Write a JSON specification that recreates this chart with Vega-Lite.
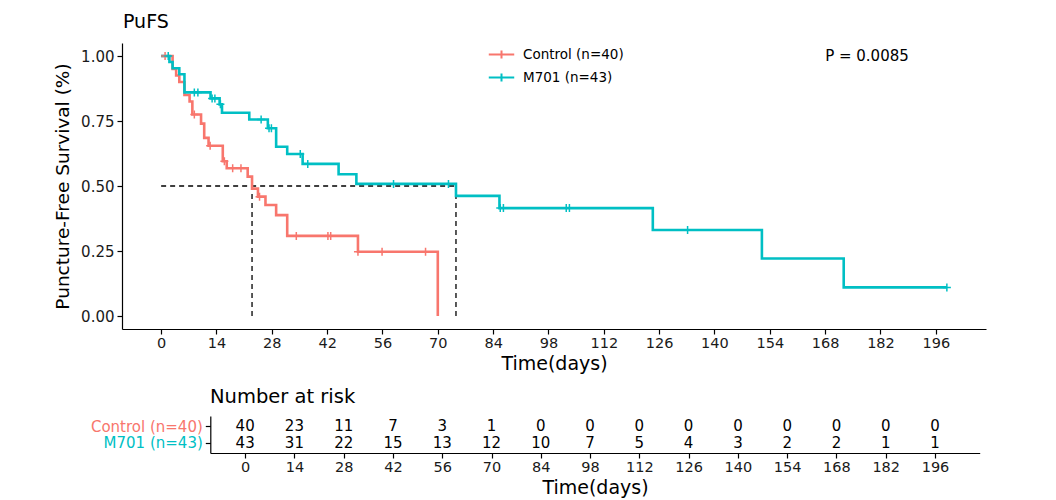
{
  "$schema": "https://vega.github.io/schema/vega-lite/v6.json",
  "background": "white",
  "padding": {"left": 53, "top": 13, "right": 5, "bottom": 5},
  "spacing": 12,
  "config": {
    "font": "DejaVu Sans",
    "view": {"stroke": null},
    "axis": {"grid": false, "domainColor": "#000", "tickColor": "#000", "labelColor": "#1a1a1a", "titleColor": "#000", "labelFont": "DejaVu Sans", "titleFont": "DejaVu Sans", "titleFontWeight": "normal", "domainWidth": 1.2, "tickWidth": 1.2, "tickSize": 5, "labelPadding": 3},
    "title": {"font": "DejaVu Sans", "fontWeight": "normal", "anchor": "start", "color": "#000", "frame": "group"},
    "legend": {"labelFont": "DejaVu Sans"}
  },
  "datasets": {
    "curves": [
      {"group": "Control (n=40)", "time": 0, "surv": 1.0},
      {"group": "Control (n=40)", "time": 2.9, "surv": 0.95},
      {"group": "Control (n=40)", "time": 3.8, "surv": 0.925},
      {"group": "Control (n=40)", "time": 4.6, "surv": 0.9},
      {"group": "Control (n=40)", "time": 5.9, "surv": 0.85},
      {"group": "Control (n=40)", "time": 7.2, "surv": 0.825},
      {"group": "Control (n=40)", "time": 7.9, "surv": 0.775},
      {"group": "Control (n=40)", "time": 10.1, "surv": 0.74},
      {"group": "Control (n=40)", "time": 10.9, "surv": 0.685},
      {"group": "Control (n=40)", "time": 12.0, "surv": 0.655},
      {"group": "Control (n=40)", "time": 15.6, "surv": 0.595},
      {"group": "Control (n=40)", "time": 16.6, "surv": 0.568},
      {"group": "Control (n=40)", "time": 21.9, "surv": 0.536},
      {"group": "Control (n=40)", "time": 23.0, "surv": 0.49},
      {"group": "Control (n=40)", "time": 24.5, "surv": 0.459},
      {"group": "Control (n=40)", "time": 26.4, "surv": 0.427},
      {"group": "Control (n=40)", "time": 29.1, "surv": 0.388},
      {"group": "Control (n=40)", "time": 31.9, "surv": 0.308},
      {"group": "Control (n=40)", "time": 49.8, "surv": 0.247},
      {"group": "Control (n=40)", "time": 70.0, "surv": 0.0},
      {"group": "M701 (n=43)", "time": 0, "surv": 1.0},
      {"group": "M701 (n=43)", "time": 2.1, "surv": 0.977},
      {"group": "M701 (n=43)", "time": 2.9, "surv": 0.953},
      {"group": "M701 (n=43)", "time": 4.6, "surv": 0.93},
      {"group": "M701 (n=43)", "time": 5.9, "surv": 0.86},
      {"group": "M701 (n=43)", "time": 12.5, "surv": 0.837},
      {"group": "M701 (n=43)", "time": 14.8, "surv": 0.814},
      {"group": "M701 (n=43)", "time": 15.4, "surv": 0.782},
      {"group": "M701 (n=43)", "time": 22.3, "surv": 0.756},
      {"group": "M701 (n=43)", "time": 27.0, "surv": 0.722},
      {"group": "M701 (n=43)", "time": 29.1, "surv": 0.651},
      {"group": "M701 (n=43)", "time": 31.9, "surv": 0.623},
      {"group": "M701 (n=43)", "time": 35.8, "surv": 0.585},
      {"group": "M701 (n=43)", "time": 44.9, "surv": 0.545},
      {"group": "M701 (n=43)", "time": 49.4, "surv": 0.508},
      {"group": "M701 (n=43)", "time": 74.6, "surv": 0.462},
      {"group": "M701 (n=43)", "time": 85.6, "surv": 0.415},
      {"group": "M701 (n=43)", "time": 124.4, "surv": 0.331},
      {"group": "M701 (n=43)", "time": 152.0, "surv": 0.221},
      {"group": "M701 (n=43)", "time": 172.7, "surv": 0.11},
      {"group": "M701 (n=43)", "time": 198.8, "surv": 0.11}
    ],
    "censor": [
      {"group": "Control (n=40)", "time": 1.0, "surv": 1.0},
      {"group": "Control (n=40)", "time": 8.4, "surv": 0.775},
      {"group": "Control (n=40)", "time": 12.4, "surv": 0.655},
      {"group": "Control (n=40)", "time": 16.0, "surv": 0.595},
      {"group": "Control (n=40)", "time": 18.1, "surv": 0.568},
      {"group": "Control (n=40)", "time": 20.2, "surv": 0.568},
      {"group": "Control (n=40)", "time": 24.9, "surv": 0.459},
      {"group": "Control (n=40)", "time": 34.2, "surv": 0.308},
      {"group": "Control (n=40)", "time": 42.2, "surv": 0.308},
      {"group": "Control (n=40)", "time": 42.9, "surv": 0.308},
      {"group": "Control (n=40)", "time": 49.8, "surv": 0.247},
      {"group": "Control (n=40)", "time": 55.9, "surv": 0.247},
      {"group": "Control (n=40)", "time": 66.9, "surv": 0.247},
      {"group": "M701 (n=43)", "time": 1.8, "surv": 1.0},
      {"group": "M701 (n=43)", "time": 8.4, "surv": 0.86},
      {"group": "M701 (n=43)", "time": 9.3, "surv": 0.86},
      {"group": "M701 (n=43)", "time": 12.9, "surv": 0.837},
      {"group": "M701 (n=43)", "time": 13.6, "surv": 0.837},
      {"group": "M701 (n=43)", "time": 15.0, "surv": 0.814},
      {"group": "M701 (n=43)", "time": 25.3, "surv": 0.756},
      {"group": "M701 (n=43)", "time": 27.3, "surv": 0.722},
      {"group": "M701 (n=43)", "time": 27.9, "surv": 0.722},
      {"group": "M701 (n=43)", "time": 35.2, "surv": 0.623},
      {"group": "M701 (n=43)", "time": 37.1, "surv": 0.585},
      {"group": "M701 (n=43)", "time": 58.8, "surv": 0.508},
      {"group": "M701 (n=43)", "time": 72.7, "surv": 0.508},
      {"group": "M701 (n=43)", "time": 85.8, "surv": 0.415},
      {"group": "M701 (n=43)", "time": 86.6, "surv": 0.415},
      {"group": "M701 (n=43)", "time": 102.5, "surv": 0.415},
      {"group": "M701 (n=43)", "time": 103.3, "surv": 0.415},
      {"group": "M701 (n=43)", "time": 133.2, "surv": 0.331},
      {"group": "M701 (n=43)", "time": 198.8, "surv": 0.11}
    ],
    "median": [
      {"x1": 0, "x2": 74.6, "y1": 0.5, "y2": 0.5},
      {"x1": 23.0, "x2": 23.0, "y1": 0, "y2": 0.5},
      {"x1": 74.6, "x2": 74.6, "y1": 0, "y2": 0.5}
    ],
    "risk": [
      {"group": "Control (n=40)", "time": 0, "n": 40},
      {"group": "Control (n=40)", "time": 14, "n": 23},
      {"group": "Control (n=40)", "time": 28, "n": 11},
      {"group": "Control (n=40)", "time": 42, "n": 7},
      {"group": "Control (n=40)", "time": 56, "n": 3},
      {"group": "Control (n=40)", "time": 70, "n": 1},
      {"group": "Control (n=40)", "time": 84, "n": 0},
      {"group": "Control (n=40)", "time": 98, "n": 0},
      {"group": "Control (n=40)", "time": 112, "n": 0},
      {"group": "Control (n=40)", "time": 126, "n": 0},
      {"group": "Control (n=40)", "time": 140, "n": 0},
      {"group": "Control (n=40)", "time": 154, "n": 0},
      {"group": "Control (n=40)", "time": 168, "n": 0},
      {"group": "Control (n=40)", "time": 182, "n": 0},
      {"group": "Control (n=40)", "time": 196, "n": 0},
      {"group": "M701 (n=43)", "time": 0, "n": 43},
      {"group": "M701 (n=43)", "time": 14, "n": 31},
      {"group": "M701 (n=43)", "time": 28, "n": 22},
      {"group": "M701 (n=43)", "time": 42, "n": 15},
      {"group": "M701 (n=43)", "time": 56, "n": 13},
      {"group": "M701 (n=43)", "time": 70, "n": 12},
      {"group": "M701 (n=43)", "time": 84, "n": 10},
      {"group": "M701 (n=43)", "time": 98, "n": 7},
      {"group": "M701 (n=43)", "time": 112, "n": 5},
      {"group": "M701 (n=43)", "time": 126, "n": 4},
      {"group": "M701 (n=43)", "time": 140, "n": 3},
      {"group": "M701 (n=43)", "time": 154, "n": 2},
      {"group": "M701 (n=43)", "time": 168, "n": 2},
      {"group": "M701 (n=43)", "time": 182, "n": 1},
      {"group": "M701 (n=43)", "time": 196, "n": 1}
    ],
    "pval": [{"time": 168.0, "surv": 1.0, "label": "P = 0.0085"}]
  },
  "vconcat": [
    {
      "title": {"text": "PuFS", "fontSize": 19, "dx": 1, "offset": 11},
      "width": 864,
      "height": 286,
      "layer": [
        {
          "data": {"name": "median"},
          "mark": {"type": "rule", "strokeDash": [5, 4], "strokeWidth": 1.3, "color": "#000"},
          "encoding": {
            "x": {"field": "x1", "type": "quantitative"},
            "x2": {"field": "x2"},
            "y": {"field": "y1", "type": "quantitative"},
            "y2": {"field": "y2"}
          }
        },
        {
          "data": {"name": "curves"},
          "mark": {"type": "line", "interpolate": "step-after", "strokeWidth": 2.6},
          "encoding": {
            "x": {"field": "time", "type": "quantitative",
              "scale": {"domain": [-9.9, 208.7], "nice": false, "zero": false},
              "axis": {"values": [0, 14, 28, 42, 56, 70, 84, 98, 112, 126, 140, 154, 168, 182, 196], "title": "Time(days)", "titleFontSize": 19, "labelFontSize": 14.5, "labelPadding": 2, "titlePadding": 5}},
            "y": {"field": "surv", "type": "quantitative",
              "scale": {"domain": [-0.05, 1.05], "nice": false, "zero": false},
              "axis": {"values": [0, 0.25, 0.5, 0.75, 1], "format": ".2f", "title": "Puncture-Free Survival (%)", "titleFontSize": 18.5, "labelFontSize": 15, "titlePadding": 8}},
            "color": {"field": "group", "type": "nominal",
              "scale": {"domain": ["Control (n=40)", "M701 (n=43)"], "range": ["#F8766D", "#00BFC4"]},
              "legend": {"orient": "none", "legendX": 371, "legendY": 3, "title": null, "symbolType": "M-1.8,0H1.8M0,-0.55V0.55", "symbolSize": 200, "symbolStrokeWidth": 2, "labelFontSize": 13.5, "labelColor": "#000", "rowPadding": 6, "labelOffset": 13}}
          }
        },
        {
          "data": {"name": "censor"},
          "mark": {"type": "point", "shape": "M0,-1V1M-1,0H1", "filled": false, "strokeWidth": 1.5, "size": 64, "opacity": 1},
          "encoding": {
            "x": {"field": "time", "type": "quantitative"},
            "y": {"field": "surv", "type": "quantitative"},
            "color": {"field": "group", "type": "nominal", "legend": null}
          }
        },
        {
          "data": {"name": "pval"},
          "mark": {"type": "text", "align": "left", "baseline": "middle", "fontSize": 15, "color": "#000"},
          "encoding": {
            "x": {"field": "time", "type": "quantitative"},
            "y": {"field": "surv", "type": "quantitative"},
            "text": {"field": "label"}
          }
        }
      ]
    },
    {
      "title": {"text": "Number at risk", "fontSize": 19.5, "dx": 88, "offset": 9},
      "width": 858,
      "height": 37,
      "data": {"name": "risk"},
      "mark": {"type": "text", "fontSize": 15, "color": "#000", "baseline": "middle"},
      "encoding": {
        "x": {"field": "time", "type": "quantitative",
          "scale": {"domain": [-9.9, 208.7], "range": [88.3, 857.7], "nice": false, "zero": false},
          "axis": {"values": [0, 14, 28, 42, 56, 70, 84, 98, 112, 126, 140, 154, 168, 182, 196], "title": "Time(days)", "titleFontSize": 19, "labelFontSize": 14.5, "labelPadding": 2, "titlePadding": 5}},
        "y": {"field": "group", "type": "nominal",
          "scale": {"domain": ["Control (n=40)", "M701 (n=43)"], "padding": 0.6},
          "axis": {"title": null, "offset": -88.3, "labelFontSize": 15,
            "labelColor": {"condition": {"test": "datum.value == 'Control (n=40)'", "value": "#F8766D"}, "value": "#00BFC4"}}},
        "text": {"field": "n", "type": "quantitative"}
      }
    }
  ]
}
